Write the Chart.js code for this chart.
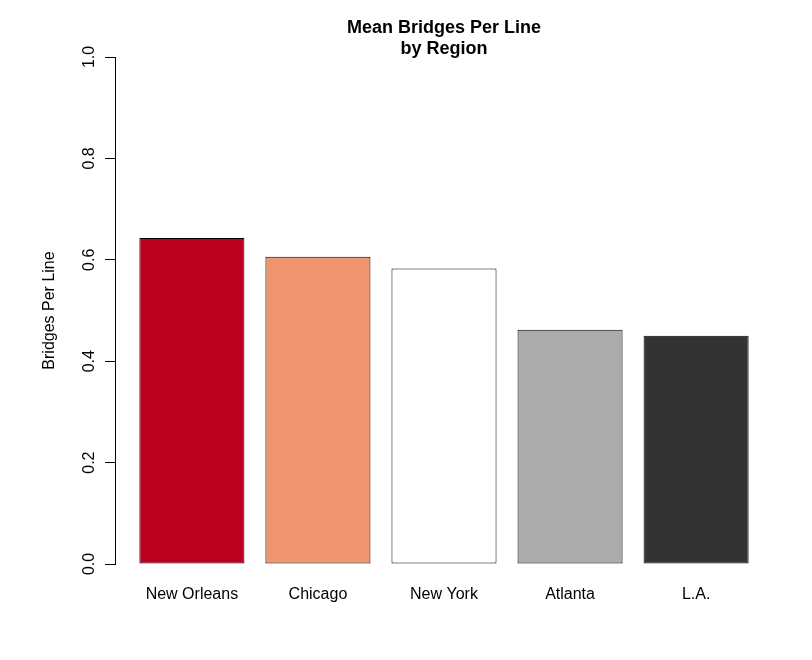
<!DOCTYPE html>
<html>
<head>
<meta charset="utf-8">
<script src="https://cdn.jsdelivr.net/npm/chart.js@4/dist/chart.umd.min.js"></script>
<style>
  body { margin: 0; background: #fff; }
  canvas { display: block; }
</style>
</head>
<body>
<canvas id="chart" width="812" height="660"></canvas>
<script>
const regions = ['New Orleans', 'Chicago', 'New York', 'Atlanta', 'L.A.'];
const bridgesPerLine = [0.643, 0.606, 0.583, 0.462, 0.450];
const barColors = ['#BD001F', '#F0956F', '#FFFFFF', '#ABABAB', '#333333'];
const yTicks = [0, 0.2, 0.4, 0.6, 0.8, 1.0];

const FONT = '"Liberation Sans", Arial, Helvetica, sans-serif';

// keep the title centred over the plot area, like R does
const centerTitle = {
    id: 'centerTitle',
    afterLayout(chart) {
        const a = chart.chartArea;
        chart.titleBlock.left = a.left;
        chart.titleBlock.right = a.right;
        chart.titleBlock.width = a.right - a.left;
    }
};

new Chart(document.getElementById('chart'), {
    type: 'bar',
    data: {
        datasets: [{
            data: bridgesPerLine.map((v, i) => ({ x: i, y: v })),
            backgroundColor: barColors,
            borderColor: '#000',
            borderWidth: 1,
            borderSkipped: false,
            barPercentage: 105 / 126,
            categoryPercentage: 1
        }]
    },
    options: {
        responsive: false,
        animation: false,
        layout: { padding: { left: 0, right: 39, top: 0, bottom: 0 } },
        plugins: {
            legend: { display: false },
            tooltip: { enabled: false },
            title: {
                display: true,
                text: ['Mean Bridges Per Line', 'by Region'],
                color: '#000',
                font: { family: FONT, size: 18, weight: 'bold', lineHeight: 1.2 },
                padding: { top: 17, bottom: -3.2 }
            }
        },
        scales: {
            x: {
                type: 'linear',
                min: -0.61,
                max: 4.61,
                offset: false,
                grid: { display: false },
                border: { display: false },
                afterBuildTicks: (scale) => {
                    scale.ticks = regions.map((r, i) => ({ value: i }));
                },
                afterFit: (scale) => { scale.height = 96; },
                ticks: {
                    autoSkip: false,
                    maxRotation: 0,
                    padding: 13,
                    color: '#000',
                    font: { family: FONT, size: 16 },
                    callback: (v) => regions[v]
                }
            },
            y: {
                min: 0,
                max: 1,
                afterBuildTicks: (scale) => {
                    scale.ticks = yTicks.map(v => ({ value: v }));
                },
                afterFit: (scale) => { scale.width = 115; },
                grid: {
                    display: true,
                    drawOnChartArea: false,
                    drawTicks: true,
                    tickLength: 10,
                    color: '#000',
                    lineWidth: 1
                },
                border: { display: true, color: '#000', width: 1 },
                ticks: {
                    minRotation: 90,
                    maxRotation: 90,
                    crossAlign: 'center',
                    padding: 4,
                    autoSkip: false,
                    color: '#000',
                    font: { family: FONT, size: 16 },
                    callback: (v) => v.toFixed(1)
                },
                title: {
                    display: true,
                    text: 'Bridges Per Line',
                    color: '#000',
                    font: { family: FONT, size: 16, lineHeight: 1.2 },
                    padding: { top: 39.5, bottom: 0 }
                }
            }
        }
    },
    plugins: [centerTitle]
});
</script>
</body>
</html>
